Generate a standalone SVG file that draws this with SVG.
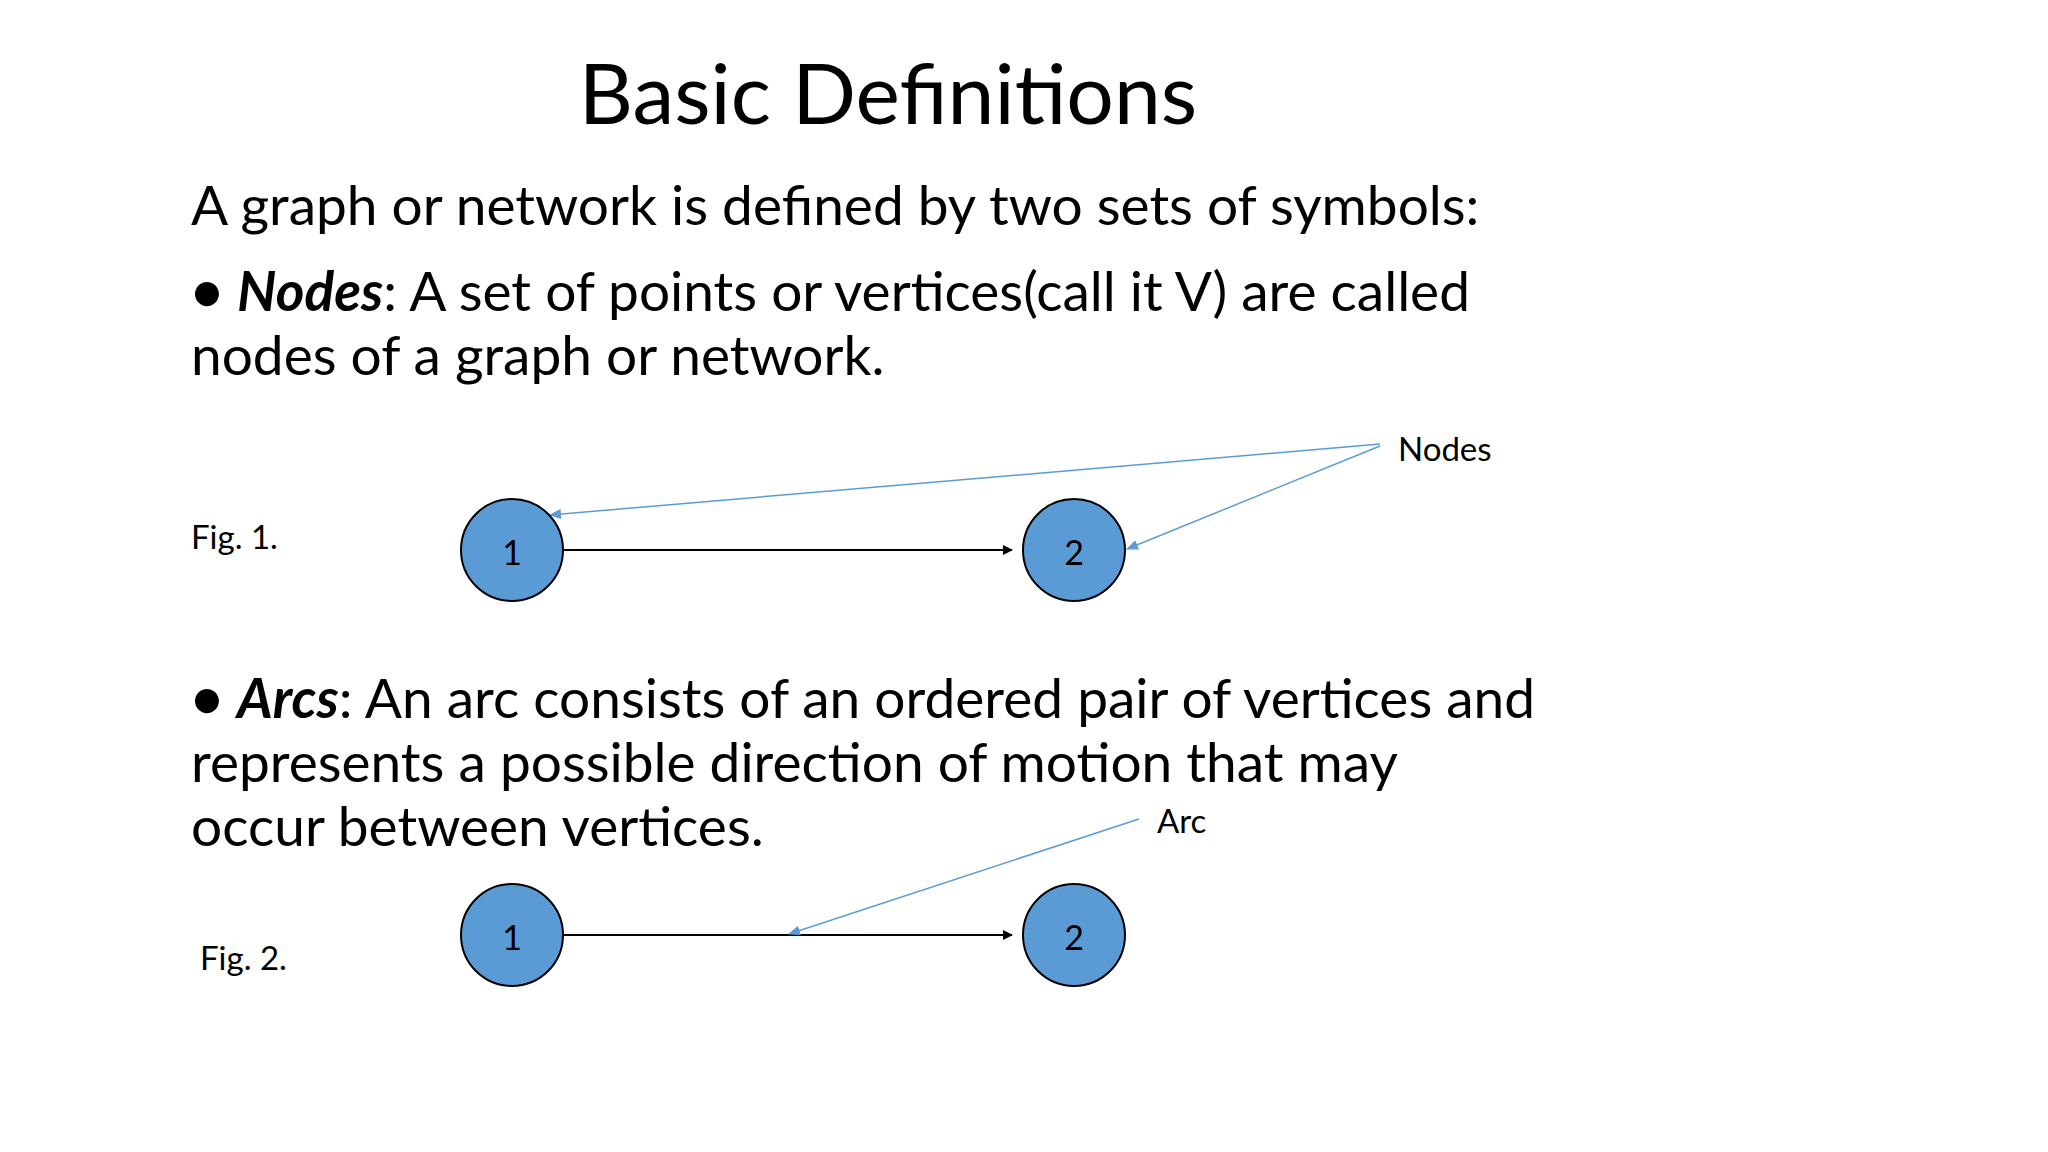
<svg xmlns="http://www.w3.org/2000/svg" width="2048" height="1152" viewBox="0 0 2048 1152">
<style>
text{font-family:Lato,"Open Sans","Liberation Sans",sans-serif;fill:#000}
.b{font-size:55px}
.s{font-size:33px}
.n{font-size:34px;text-anchor:middle}
circle{fill:#5b9bd5;stroke:#000;stroke-width:2}
</style>
<defs>
<marker id="ak" markerWidth="10" markerHeight="10" refX="9" refY="5" orient="auto" markerUnits="userSpaceOnUse"><path d="M0,0L10,5L0,10Z" fill="#000"/></marker>
<marker id="ab" markerWidth="12" markerHeight="10" refX="11" refY="5" orient="auto" markerUnits="userSpaceOnUse"><path d="M0,0L12,5L0,10Z" fill="#5b9bd5"/></marker>
</defs>
<rect width="2048" height="1152" fill="#fff"/>
<text x="888" y="124" font-size="84" text-anchor="middle">Basic Definitions</text>
<text class="b" x="191" y="225">A graph or network is defined by two sets of symbols:</text>
<text class="b" x="191" y="311"><tspan font-weight="bold">•</tspan> <tspan font-weight="bold" font-style="italic">Nodes</tspan>: A set of points or vertices(call it V) are called</text>
<text class="b" x="191" y="375">nodes of a graph or network.</text>
<text class="b" x="191" y="718"><tspan font-weight="bold">•</tspan> <tspan font-weight="bold" font-style="italic">Arcs</tspan>: An arc consists of an ordered pair of vertices and</text>
<text class="b" x="191" y="782">represents a possible direction of motion that may</text>
<text class="b" x="191" y="846">occur between vertices.</text>
<text class="s" x="191" y="549">Fig. 1.</text>
<text class="s" x="200" y="970">Fig. 2.</text>
<text class="s" x="1398" y="461">Nodes</text>
<text class="s" x="1157" y="833">Arc</text>
<g id="connectors" fill="none">
<line x1="563" y1="550" x2="1012" y2="550" stroke="#000" stroke-width="2" marker-end="url(#ak)"/>
<line x1="563" y1="935" x2="1012" y2="935" stroke="#000" stroke-width="2" marker-end="url(#ak)"/>
<line x1="1380" y1="444" x2="550" y2="515" stroke="#5b9bd5" stroke-width="1.5" marker-end="url(#ab)"/>
<line x1="1380" y1="446" x2="1127" y2="549" stroke="#5b9bd5" stroke-width="1.5" marker-end="url(#ab)"/>
<line x1="1139" y1="819" x2="789" y2="934" stroke="#5b9bd5" stroke-width="1.5" marker-end="url(#ab)"/>
</g>
<g id="n1a"><circle cx="512" cy="550" r="51"/><text class="n" x="512" y="565">1</text></g>
<g id="n2a"><circle cx="1074" cy="550" r="51"/><text class="n" x="1074" y="565">2</text></g>
<g id="n1b"><circle cx="512" cy="935" r="51"/><text class="n" x="512" y="950">1</text></g>
<g id="n2b"><circle cx="1074" cy="935" r="51"/><text class="n" x="1074" y="950">2</text></g>
</svg>
